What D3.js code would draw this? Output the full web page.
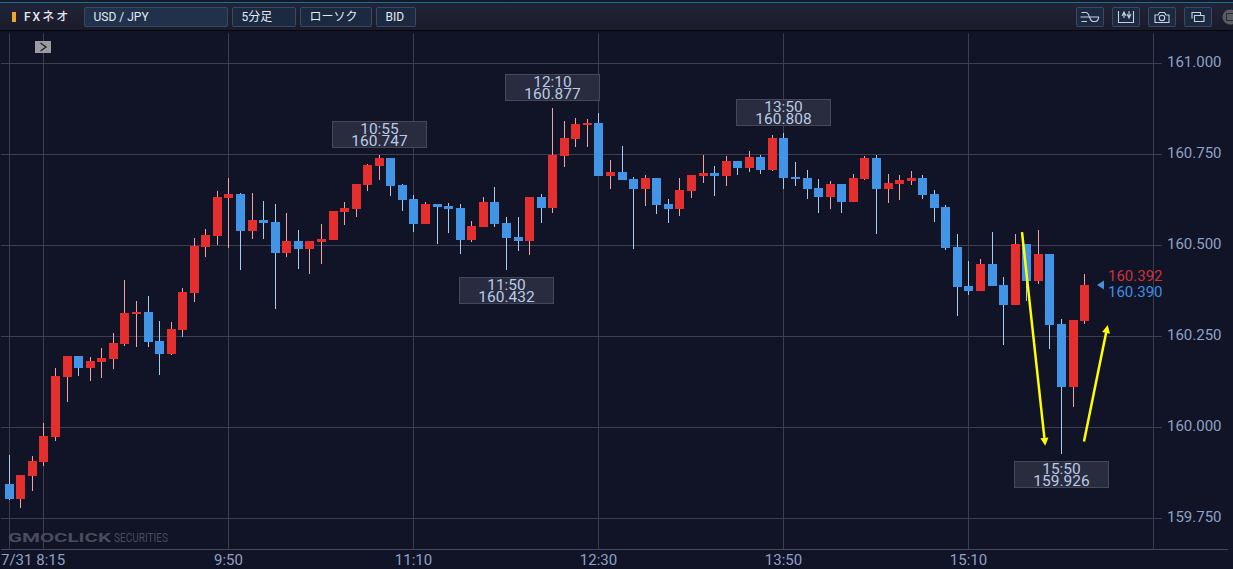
<!DOCTYPE html>
<html>
<head>
<meta charset="utf-8">
<title>USD/JPY 5分足</title>
<script src="https://cdn.jsdelivr.net/npm/d3@7"></script>
<style>
html, body { margin: 0; padding: 0; background: #111326; overflow: hidden; }
text { font-family: Roboto, sans-serif; }
.header-text { font-family: Roboto, "Noto Sans CJK JP", sans-serif; font-size: 12px; fill: #e3e9f2; }
</style>
</head>
<body>
<div id="chart-area"></div>
<script>
// 5 minute bars
var times = ["8:15","8:20","8:25","8:30","8:35","8:40","8:45","8:50","8:55","9:00",
    "9:05","9:10","9:15","9:20","9:25","9:30","9:35","9:40","9:45","9:50",
    "9:55","10:00","10:05","10:10","10:15","10:20","10:25","10:30","10:35","10:40",
    "10:45","10:50","10:55","11:00","11:05","11:10","11:15","11:20","11:25","11:30",
    "11:35","11:40","11:45","11:50","11:55","12:00","12:05","12:10","12:15","12:20",
    "12:25","12:30","12:35","12:40","12:45","12:50","12:55","13:00","13:05","13:10",
    "13:15","13:20","13:25","13:30","13:35","13:40","13:45","13:50","13:55","14:00",
    "14:05","14:10","14:15","14:20","14:25","14:30","14:35","14:40","14:45","14:50",
    "14:55","15:00","15:05","15:10","15:15","15:20","15:25","15:30","15:35","15:40",
    "15:45","15:50","15:55","16:00","16:05","16:10","16:15","16:20","16:25","16:30"];

var opens = [159.844,159.803,159.866,159.905,159.974,160.138,160.196,160.163,160.180,160.188,
    160.229,160.311,160.317,160.237,160.201,160.267,160.369,160.495,160.526,160.630,
    160.641,160.539,160.570,160.564,160.479,160.512,160.490,160.509,160.515,160.592,
    160.600,160.666,160.718,160.740,160.666,160.627,160.559,160.614,160.608,160.603,
    160.515,160.550,160.619,160.561,160.523,160.512,160.633,160.603,160.745,160.792,
    160.831,160.836,160.690,160.701,160.682,160.655,160.685,160.614,160.600,160.649,
    160.690,160.699,160.690,160.732,160.713,160.743,160.707,160.795,160.688,160.685,
    160.657,160.633,160.668,160.619,160.682,160.740,160.655,160.668,160.677,160.685,
    160.641,160.605,160.495,160.388,160.374,160.449,160.391,160.336,160.504,160.402,
    160.476,160.284,160.111,160.292];
var highs = [159.923,159.869,159.921,160.011,160.163,160.196,160.196,160.193,160.217,160.258,
    160.405,160.346,160.360,160.291,160.289,160.382,160.519,160.544,160.649,160.685,
    160.644,160.644,160.622,160.614,160.589,160.542,160.512,160.559,160.594,160.619,
    160.668,160.723,160.747,160.740,160.668,160.637,160.619,160.614,160.615,160.613,
    160.566,160.632,160.659,160.577,160.577,160.633,160.641,160.877,160.841,160.849,
    160.847,160.863,160.733,160.772,160.687,160.692,160.685,160.626,160.684,160.693,
    160.748,160.717,160.744,160.732,160.758,160.749,160.803,160.808,160.728,160.706,
    160.681,160.678,160.668,160.696,160.745,160.748,160.696,160.693,160.703,160.693,
    160.651,160.610,160.531,160.456,160.461,160.536,160.413,160.530,160.504,160.542,
    160.476,160.297,160.295,160.420];
var lows = [159.801,159.777,159.826,159.895,159.963,160.070,160.142,160.128,160.136,160.161,
    160.224,160.221,160.221,160.145,160.199,160.249,160.345,160.469,160.501,160.493,
    160.433,160.518,160.518,160.326,160.469,160.436,160.422,160.450,160.515,160.557,
    160.579,160.650,160.679,160.636,160.595,160.537,160.559,160.504,160.535,160.477,
    160.509,160.550,160.551,160.432,160.485,160.474,160.562,160.590,160.716,160.771,
    160.771,160.690,160.656,160.679,160.491,160.609,160.587,160.562,160.581,160.631,
    160.672,160.636,160.663,160.692,160.702,160.697,160.704,160.656,160.663,160.626,
    160.590,160.601,160.590,160.619,160.679,160.532,160.617,160.625,160.666,160.627,
    160.565,160.487,160.307,160.363,160.374,160.388,160.225,160.336,160.347,160.394,
    160.214,159.926,160.057,160.285];
var closes = [159.803,159.869,159.908,159.976,160.141,160.196,160.163,160.182,160.190,160.232,
    160.314,160.317,160.234,160.201,160.270,160.372,160.498,160.528,160.633,160.641,
    160.539,160.570,160.561,160.479,160.512,160.490,160.512,160.517,160.594,160.603,
    160.668,160.721,160.740,160.663,160.625,160.559,160.614,160.605,160.600,160.515,
    160.553,160.619,160.559,160.520,160.512,160.633,160.603,160.748,160.795,160.833,
    160.836,160.690,160.701,160.679,160.655,160.685,160.611,160.600,160.652,160.693,
    160.699,160.690,160.732,160.713,160.743,160.707,160.795,160.685,160.682,160.655,
    160.633,160.668,160.619,160.685,160.740,160.655,160.671,160.679,160.685,160.638,
    160.603,160.493,160.385,160.374,160.449,160.388,160.336,160.504,160.402,160.476,
    160.281,160.111,160.295,160.391];

var priceTicks = [161, 160.75, 160.5, 160.25, 160, 159.75];
var timeTicks = ["8:15","8:30","9:50","11:10","12:30","13:50","15:10","16:30"];
var timeTickLabels = ["7/31 8:15","","9:50","11:10","12:30","13:50","15:10",""];

// high / low call-outs: bar time, which end of the bar, label price
var calloutTimes = ["10:55","11:50","12:10","13:50","15:50"];
var calloutSides = ["high","low","high","high","low"];

var askPrice = 160.392;
var bidPrice = 160.390;

// yellow hand drawn arrows, in bar index and price
var arrowStartBars = [87.59, 92.95];
var arrowStartPrices = [160.536, 159.961];
var arrowEndBars = [89.6, 95.0];
var arrowEndPrices = [159.949, 160.281];

var WIDTH = 1233, HEIGHT = 569;
var bars = opens.map(function(o, i) {
    return { i: i, time: times[i], open: o, high: highs[i], low: lows[i], close: closes[i] };
});

var svg = d3.select("#chart-area")
    .append("svg")
    .attr("width", WIDTH)
    .attr("height", HEIGHT)
    .style("display", "block");

var x = d3.scaleLinear().domain([0, times.length - 1]).range([9.25, 1153.94]);
var y = d3.scaleLinear().domain([161, 159.75]).range([63.3, 518.3]);

var bodyWidth = 9;
function barLeft(i) { return Math.round(x(i) - bodyWidth / 2); }
function snapX(i) { return barLeft(i) + 4.5; }
function snapY(p) { return Math.floor(y(p)) + 0.5; }

// ---------- background and header ----------
svg.append("rect").attr("width", WIDTH).attr("height", HEIGHT).attr("fill", "#111326");

var defs = svg.append("defs");
var headerGrad = defs.append("linearGradient").attr("id", "header-grad")
    .attr("x1", 0).attr("y1", 0).attr("x2", 0).attr("y2", 1);
headerGrad.append("stop").attr("offset", 0).attr("stop-color", "#22243a");
headerGrad.append("stop").attr("offset", 1).attr("stop-color", "#1a1c2b");

var header = svg.append("g").attr("class", "header");
header.append("rect").attr("width", WIDTH).attr("height", 30).attr("fill", "url(#header-grad)");
header.append("rect").attr("width", WIDTH).attr("height", 2).attr("fill", "#141a26");
header.append("rect").attr("y", 2).attr("width", WIDTH).attr("height", 1).attr("fill", "#176f98");
header.append("rect").attr("y", 30).attr("width", WIDTH).attr("height", 1).attr("fill", "#07080e");

header.append("rect").attr("x", 12).attr("y", 12).attr("width", 4).attr("height", 10).attr("fill", "#e9a82f");
header.append("text").attr("class", "header-text").attr("x", 24).attr("y", 21)
    .attr("font-weight", 500).style("letter-spacing", "2px").text("FXネオ");

var menuLabels = ["USD / JPY", "5分足", "ローソク", "BID"];
var menuX = [84.5, 232.5, 300.5, 376.5];
var menuW = [143, 63, 71, 39];
var menu = header.selectAll(".menu").data(menuLabels).enter().append("g").attr("class", "menu");
menu.append("rect")
    .attr("x", function(d, i) { return menuX[i]; })
    .attr("y", 7.5)
    .attr("width", function(d, i) { return menuW[i]; })
    .attr("height", 19)
    .attr("rx", 1.5)
    .attr("fill", function(d, i) { return i == 0 ? "#20324b" : "#1b2a41"; })
    .attr("stroke", "#3b4960");
menu.append("text")
    .attr("class", "header-text")
    .attr("x", function(d, i) { return menuX[i] + 9; })
    .attr("y", 21)
    .text(function(d) { return d; });

var iconX = [1076, 1112, 1148, 1184];
var icons = header.selectAll(".icon").data(iconX).enter().append("g")
    .attr("class", "icon")
    .attr("transform", function(d) { return "translate(" + d + ",7)"; });
icons.append("rect").attr("x", 0.5).attr("y", 0.5).attr("width", 27).attr("height", 19).attr("rx", 1.5)
    .attr("fill", "#1b2a41").attr("stroke", "#3b4960");
var iconStroke = "#c9d0da";
function iconPath(n, d) {
    d3.select(icons.nodes()[n]).append("path").attr("d", d).attr("fill", "none")
        .attr("stroke", iconStroke).attr("stroke-width", 1.1);
}
iconPath(0, "M5.5 5.5H10Q12 5.5 13.5 10T17 14.5H20Q21.5 14.5 23 10M4.5 10H23M5.5 14.5H11");
iconPath(1, "M6.5 4V15.5H21.5V4M10 9L12 5L14 9M12 5V11M15 7L17 11L19 7M17 4V11");
iconPath(2, "M7 15.5V8H10L11.5 5.5H16.5L18 8H21V15.5Z");
d3.select(icons.nodes()[2]).append("circle").attr("cx", 14).attr("cy", 11).attr("r", 2.7)
    .attr("fill", "none").attr("stroke", iconStroke).attr("stroke-width", 1.1);
iconPath(3, "M8 11.5V5.5H16.5V8.5M10.5 8.5H20V14.5H10.5Z");

header.append("circle").attr("cx", 1230).attr("cy", 17).attr("r", 7.5).attr("fill", "#5b5c66");
header.append("rect").attr("x", 1226.5).attr("y", 13.5).attr("width", 8).attr("height", 7)
    .attr("fill", "none").attr("stroke", "#2a2b33").attr("stroke-width", 1);

// ---------- axes with their grid lines ----------
var yAxisCall = d3.axisRight(y)
    .tickValues(priceTicks)
    .tickSize(1161)
    .tickPadding(5)
    .tickFormat(d3.format(".3f"));
var yAxis = svg.append("g")
    .attr("class", "y-axis")
    .attr("transform", "translate(1,0)")
    .call(yAxisCall);
yAxis.select(".domain").remove();
yAxis.selectAll(".tick").attr("transform", function(d) { return "translate(0," + snapY(d) + ")"; });
yAxis.selectAll(".tick line").attr("stroke", "#3d3e4b");
yAxis.selectAll(".tick text")
    .attr("dy", null).attr("y", 3.5)
    .attr("fill", "#8da2c3").attr("font-size", "15px").attr("font-family", "Roboto");

var xAxisCall = d3.axisBottom(x)
    .tickValues(timeTicks.map(function(t) { return times.indexOf(t); }))
    .tickSizeInner(-516)
    .tickSizeOuter(0)
    .tickFormat(function(d) { return timeTickLabels[timeTicks.indexOf(times[d])]; });
var xAxis = svg.append("g")
    .attr("class", "x-axis")
    .attr("transform", "translate(0,549.5)")
    .call(xAxisCall);
xAxis.select(".domain").remove();
xAxis.selectAll(".tick").attr("transform", function(d) { return "translate(" + snapX(d) + ",0)"; });
xAxis.selectAll(".tick line").attr("stroke", "#3d3e4b");
xAxis.selectAll(".tick text")
    .attr("dy", null).attr("y", 15)
    .attr("fill", "#8da2c3").attr("font-size", "15px").attr("font-family", "Roboto");
// first label starts at the left edge, not on its line
xAxis.select(".tick text")
    .attr("text-anchor", "start")
    .attr("x", 1 - snapX(0));

svg.append("line").attr("x1", 1).attr("x2", 1228).attr("y1", 549.5).attr("y2", 549.5).attr("stroke", "#4a4b58");

// ---------- watermark and panel button ----------
svg.append("text").attr("x", 8).attr("y", 542).attr("textLength", 103).attr("lengthAdjust", "spacingAndGlyphs")
    .attr("font-family", "Liberation Sans").attr("font-weight", "bold").attr("font-size", "13.5px")
    .attr("fill", "#4a4b5c").text("GMOCLICK");
svg.append("text").attr("x", 114).attr("y", 542).attr("textLength", 54).attr("lengthAdjust", "spacingAndGlyphs")
    .attr("font-size", "12px").attr("fill", "#4a4b5c").text("SECURITIES");

svg.append("rect").attr("x", 35).attr("y", 41).attr("width", 16).attr("height", 12).attr("fill", "#9b9ba1");
svg.append("path").attr("d", "M40.5 43L46 47L40.5 51").attr("fill", "none").attr("stroke", "#22232c").attr("stroke-width", 1.4);

// ---------- candles ----------
var candles = svg.append("g").attr("class", "candles")
    .selectAll("g").data(bars).enter().append("g");

candles.append("rect")
    .attr("x", function(d) { return barLeft(d.i) + 4; })
    .attr("y", function(d) { return Math.round(y(d.high)); })
    .attr("width", 1)
    .attr("height", function(d) { return Math.round(y(d.low)) - Math.round(y(d.high)); })
    .attr("fill", function(d) { return d.close >= d.open ? "#efa3a6" : "#a3cdf2"; });

candles.append("rect")
    .attr("x", function(d) { return barLeft(d.i); })
    .attr("y", function(d) { return Math.round(y(Math.max(d.open, d.close))); })
    .attr("width", bodyWidth)
    .attr("height", function(d) {
        return Math.round(y(Math.min(d.open, d.close))) - Math.round(y(Math.max(d.open, d.close)));
    })
    .attr("fill", function(d) { return d.close >= d.open ? "#e52f2f" : "#4294e6"; });

// ---------- high / low call-outs ----------
var calloutData = calloutTimes.map(function(t, k) {
    var bar = bars[times.indexOf(t)];
    return { bar: bar, side: calloutSides[k], price: bar[calloutSides[k]] };
});
var boxW = 95, boxH = 27, boxGap = 7;
var callouts = svg.append("g").attr("class", "callouts")
    .selectAll("g").data(calloutData).enter().append("g")
    .attr("transform", function(d) {
        var top = d.side == "high"
            ? Math.round(y(d.price)) - boxGap - boxH
            : Math.round(y(d.price)) + boxGap;
        return "translate(" + (snapX(d.bar.i) - boxW / 2) + "," + top + ")";
    });
callouts.append("rect")
    .attr("x", 0.5).attr("y", 0.5).attr("width", boxW - 1).attr("height", boxH - 1)
    .attr("fill", "#2b2c3f").attr("fill-opacity", 0.95).attr("stroke", "#474857");
callouts.append("text")
    .attr("x", boxW / 2).attr("y", 12.5).attr("text-anchor", "middle")
    .attr("font-size", "15.5px").attr("fill", "#b9cce6")
    .text(function(d) { return d.bar.time; });
callouts.append("text")
    .attr("x", boxW / 2).attr("y", 24.5).attr("text-anchor", "middle")
    .attr("font-size", "15.5px").attr("fill", "#b9cce6")
    .text(function(d) { return d3.format(".3f")(d.price); });

// ---------- current price ----------
var last = bars[bars.length - 1];
var priceX = barLeft(last.i) + 28;
var mid = y((askPrice + bidPrice) / 2);
svg.append("path")
    .attr("d", "M" + (priceX - 11) + " " + mid + "L" + (priceX - 4) + " " + (mid - 4.5) + "V" + (mid + 4.5) + "Z")
    .attr("fill", "#4b8fd8");
svg.append("text").attr("x", priceX).attr("y", y(askPrice) - 4)
    .attr("font-size", "15px").attr("fill", "#c9333a").text(d3.format(".3f")(askPrice));
svg.append("text").attr("x", priceX).attr("y", y(bidPrice) + 12)
    .attr("font-size", "15px").attr("fill", "#3f8ee0").text(d3.format(".3f")(bidPrice));

// ---------- yellow arrows ----------
var headLen = 8, headHalf = 4;
arrowStartBars.forEach(function(b, k) {
    var x0 = x(b), y0 = y(arrowStartPrices[k]);
    var x1 = x(arrowEndBars[k]), y1 = y(arrowEndPrices[k]);
    var len = Math.sqrt((x1 - x0) * (x1 - x0) + (y1 - y0) * (y1 - y0));
    var ux = (x1 - x0) / len, uy = (y1 - y0) / len;
    var bx = x1 - ux * headLen, by = y1 - uy * headLen;
    svg.append("line")
        .attr("x1", x0).attr("y1", y0).attr("x2", bx).attr("y2", by)
        .attr("stroke", "#ffff00").attr("stroke-width", 2.5);
    svg.append("path")
        .attr("d", "M" + x1 + " " + y1 + "L" + (bx - uy * headHalf) + " " + (by + ux * headHalf)
            + "L" + (bx + uy * headHalf) + " " + (by - ux * headHalf) + "Z")
        .attr("fill", "#ffff00");
});
</script>
</body>
</html>
